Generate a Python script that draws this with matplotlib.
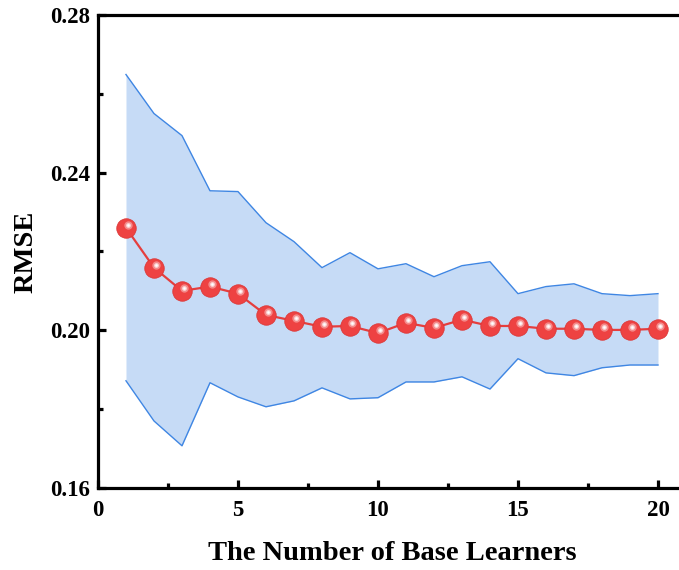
import matplotlib

matplotlib.use("Agg")
import matplotlib.pyplot as plt
import matplotlib.transforms as mtransforms
from matplotlib.ticker import MultipleLocator, FormatStrFormatter

# number of base learners
n_learners = list(range(1, 21))
rmse_mean = [0.2260, 0.2159, 0.2100, 0.2111, 0.2093, 0.2039, 0.2024, 0.2009,
             0.2011, 0.1993, 0.2019, 0.2006, 0.2027, 0.2011, 0.2011, 0.2004,
             0.2004, 0.2001, 0.2001, 0.2004]
rmse_upper = [0.2649, 0.2550, 0.2494, 0.2354, 0.2352, 0.2273, 0.2225, 0.2159,
              0.2197, 0.2156, 0.2169, 0.2136, 0.2164, 0.2174, 0.2093, 0.2111,
              0.2118, 0.2093, 0.2088, 0.2093]
rmse_lower = [0.1872, 0.1770, 0.1707, 0.1867, 0.1831, 0.1806, 0.1821, 0.1854,
              0.1826, 0.1829, 0.1869, 0.1869, 0.1882, 0.1851, 0.1928, 0.1892,
              0.1885, 0.1905, 0.1912, 0.1912]

plt.rcParams["font.family"] = ["Liberation Serif", "DejaVu Serif"]
plt.rcParams["font.weight"] = "bold"

fig = plt.figure(figsize=(6.79, 5.70), dpi=100)
ax = fig.add_axes([0.1443, 0.1439, 0.866, 0.8298])

ax.fill_between(n_learners, rmse_lower, rmse_upper, color="#c6dbf6", linewidth=0)
ax.plot(n_learners, rmse_upper, color="#3f86e3", linewidth=1.0)
ax.plot(n_learners, rmse_lower, color="#3f86e3", linewidth=1.0)

ax.plot(n_learners, rmse_mean, "-", color="#e53e3e", linewidth=1.6, zorder=3)
ax.plot(n_learners, rmse_mean, "o", markersize=14, markerfacecolor="#ee4242",
        markeredgecolor="#dc3838", markeredgewidth=0.6, zorder=4)
# soft highlight on each sphere
hl = mtransforms.offset_copy(ax.transData, fig=fig, x=1.6, y=2.0, units="points")
ax.plot(n_learners, rmse_mean, "o", markersize=6, markerfacecolor="#f48a8a",
        markeredgewidth=0, transform=hl, zorder=5)
ax.plot(n_learners, rmse_mean, "o", markersize=3.5, markerfacecolor="#fbd4d4",
        markeredgewidth=0, transform=hl, zorder=6)
ax.plot(n_learners, rmse_mean, "o", markersize=1.8, markerfacecolor="white",
        markeredgewidth=0, transform=hl, zorder=7)

ax.set_xlim(0, 21)
ax.set_ylim(0.16, 0.28)
ax.xaxis.set_major_locator(MultipleLocator(5))
ax.xaxis.set_minor_locator(MultipleLocator(2.5))
ax.yaxis.set_major_locator(MultipleLocator(0.04))
ax.yaxis.set_minor_locator(MultipleLocator(0.02))
ax.yaxis.set_major_formatter(FormatStrFormatter("%.2f"))

for side in ("left", "bottom", "top", "right"):
    ax.spines[side].set_linewidth(2.3)
ax.tick_params(which="major", direction="in", length=6, width=2.3,
               labelsize=16.5)
ax.tick_params(axis="x", which="major", pad=9)
ax.tick_params(axis="y", which="major", pad=6)
ax.tick_params(which="minor", direction="in", length=3.5, width=2.3)
ax.tick_params(axis="y", which="both", right=False)
ax.tick_params(axis="x", which="both", top=False)
for lab in ax.get_xticklabels() + ax.get_yticklabels():
    lab.set_fontweight("bold")

ax.set_xlabel("The Number of Base Learners", fontsize=20.5, fontweight="bold",
              labelpad=14)
ax.set_ylabel("RMSE", fontsize=20.5, fontweight="bold", labelpad=8)

fig.savefig("out.png", dpi=100)
